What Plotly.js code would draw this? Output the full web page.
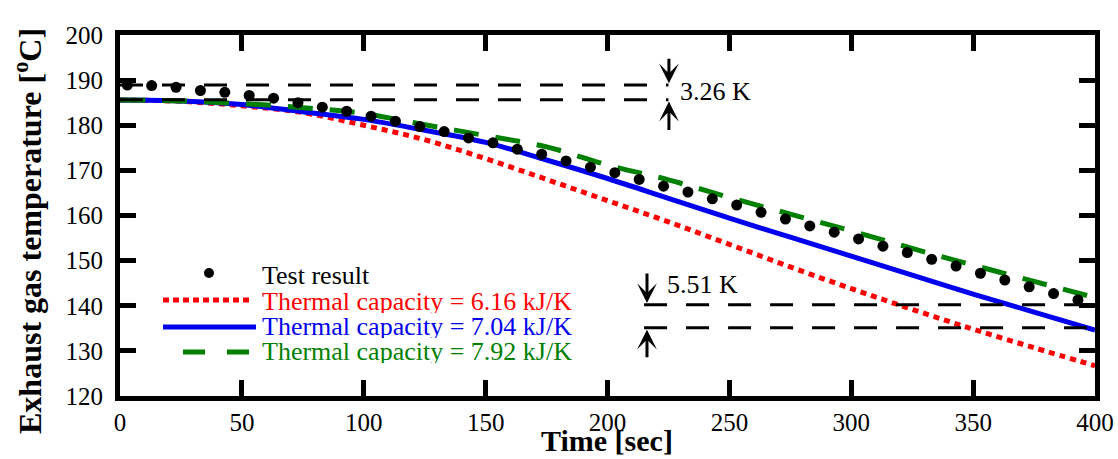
<!DOCTYPE html>
<html>
<head>
<meta charset="utf-8">
<script src="https://cdn.plot.ly/plotly-3.0.1.min.js"></script>
<style>html,body{margin:0;padding:0;background:#fff;}#chart{width:1118px;height:459px;}</style>
</head>
<body>
<div id="chart"></div>
<script>
// ---- data ----
const testTime = [3,13,23,33,43,53,63,73,83,93,103,113,123,133,143,153,163,173,183,193,
                  203,213,223,233,243,253,263,273,283,293,303,313,323,333,343,353,363,373,383,393];
const testTemp = [188.9,188.8,188.4,187.7,187.3,186.6,186.0,185.0,184.0,183.1,
                  182.0,180.9,179.7,178.6,177.2,176.1,174.7,173.6,172.1,170.7,
                  169.5,168.0,166.5,165.2,163.7,162.3,160.7,159.2,157.7,156.3,
                  154.8,153.2,151.8,150.3,148.8,147.2,145.7,144.2,142.7,141.3];
const simTime = [0,25,50,75,100,125,150,175,200,225,250,275,300,325,350,375,400];
const temp616 = [185.6,185.3,184.3,182.8,180.0,176.8,172.6,168.0,163.3,158.6,153.6,148.6,143.8,139.2,134.8,130.7,126.7];
const temp704 = [185.6,185.4,184.6,183.0,181.3,178.9,176.2,172.3,168.2,163.8,159.4,155.2,151.0,146.8,142.6,138.6,134.6];
const temp792 = [185.6,185.4,184.8,183.9,182.6,180.1,177.7,175.2,171.2,167.9,164.0,160.3,156.6,152.7,149.0,145.4,141.8];
const seriesNames = ['Test result','Thermal capacity = 6.16 kJ/K','Thermal capacity = 7.04 kJ/K','Thermal capacity = 7.92 kJ/K'];
const xTicks = [0,50,100,150,200,250,300,350,400];
const yTicks = [120,130,140,150,160,170,180,190,200];
// reference levels for the difference markers
const diffStartLabels = ['3.26 K','5.51 K'];
const startUpper = 188.9, startLower = 185.64, startSpan = [0, 225];
const endUpper = 140.2, endLower = 135.1, endSpan = [215, 400];

const FONT = 'Liberation Serif, Times New Roman, serif';
const RED = '#ff0000', BLUE = '#0000ee', GREEN = '#008000';

const traces = [
  {x: simTime, y: temp616, mode:'lines', name: seriesNames[1], line:{color:RED, width:5, dash:'6px,5px', shape:'spline'}},
  {x: simTime, y: temp704, mode:'lines', name: seriesNames[2], line:{color:BLUE, width:5, shape:'spline'}},
  {x: simTime, y: temp792, mode:'lines', name: seriesNames[3], line:{color:GREEN, width:5, dash:'25px,17px', shape:'spline'}},
  {x: testTime, y: testTemp, mode:'markers', name: seriesNames[0], marker:{color:'#000', size:11}}
];

// plot area in pixels, for paper-coordinate placement of legend / titles
const L = 120, R = 1095, T = 35, B = 396;
const px = v => (v - L) / (R - L);
const py = v => (B - v) / (B - T);

const shapes = [
  {type:'line', xref:'x', yref:'y', x0:startSpan[0], x1:startSpan[1], y0:startUpper, y1:startUpper, line:{color:'#000', width:3, dash:'23px,19px'}},
  {type:'line', xref:'x', yref:'y', x0:startSpan[0], x1:startSpan[1], y0:startLower, y1:startLower, line:{color:'#000', width:3, dash:'23px,19px'}},
  {type:'line', xref:'x', yref:'y', x0:endSpan[0], x1:endSpan[1], y0:endUpper, y1:endUpper, line:{color:'#000', width:3, dash:'23px,19px'}},
  {type:'line', xref:'x', yref:'y', x0:endSpan[0], x1:endSpan[1], y0:endLower, y1:endLower, line:{color:'#000', width:3, dash:'23px,19px'}},
  // legend samples
  {type:'line', xref:'paper', yref:'paper', x0:px(163), x1:px(253), y0:py(300), y1:py(300), line:{color:RED, width:5, dash:'6px,4px'}},
  {type:'line', xref:'paper', yref:'paper', x0:px(163), x1:px(256), y0:py(327), y1:py(327), line:{color:BLUE, width:5}},
  {type:'line', xref:'paper', yref:'paper', x0:px(183), x1:px(252), y0:py(352), y1:py(352), line:{color:GREEN, width:5, dash:'22px,22px'}},
  {type:'circle', xref:'paper', yref:'paper', xsizemode:'pixel', ysizemode:'pixel',
   xanchor:px(209), yanchor:py(273), x0:-5, x1:5, y0:-5, y1:5, fillcolor:'#000', line:{width:0}}
];

const legFont = c => ({family:FONT, size:26, color:c});
const legItem = (txt, yy, c) => ({xref:'paper', yref:'paper', x:px(261), y:py(yy), xanchor:'left', yanchor:'middle',
  text:txt, showarrow:false, font:legFont(c), height:24, borderpad:0});
const annotations = [
  legItem(seriesNames[0], 275, '#000'),
  legItem(seriesNames[1], 301, RED),
  legItem(seriesNames[2], 326, BLUE),
  legItem(seriesNames[3], 351, GREEN),
  // difference labels
  {xref:'x', yref:'y', x:229, y:187.4, xanchor:'left', yanchor:'middle', text:diffStartLabels[0], showarrow:false, font:legFont('#000')},
  {xref:'x', yref:'y', x:223.4, y:144.6, xanchor:'left', yanchor:'middle', text:diffStartLabels[1], showarrow:false, font:legFont('#000')},
  // arrows
  {xref:'x', yref:'y', x:225.2, y:startUpper+0.4, ax:0, ay:-26, text:'', showarrow:true, arrowhead:3, arrowsize:1.1, arrowwidth:3, arrowcolor:'#000', standoff:0},
  {xref:'x', yref:'y', x:225.2, y:startLower-0.4, ax:0, ay:30, text:'', showarrow:true, arrowhead:3, arrowsize:1.1, arrowwidth:3, arrowcolor:'#000', standoff:0},
  {xref:'x', yref:'y', x:216.2, y:endUpper+0.4, ax:0, ay:-31, text:'', showarrow:true, arrowhead:3, arrowsize:1.1, arrowwidth:3, arrowcolor:'#000', standoff:0},
  {xref:'x', yref:'y', x:216.2, y:endLower-0.4, ax:0, ay:29, text:'', showarrow:true, arrowhead:3, arrowsize:1.1, arrowwidth:3, arrowcolor:'#000', standoff:0},
  // axis titles
  {xref:'paper', yref:'paper', x:px(607), y:py(440), xanchor:'center', yanchor:'middle', text:'Time [sec]', showarrow:false,
   font:{family:FONT, size:30, color:'#000', weight:'bold'}},
  {xref:'paper', yref:'paper', x:px(28), y:py(231), xanchor:'center', yanchor:'middle', textangle:-90, text:'Exhaust gas temperature [<sup>o</sup>C]', showarrow:false,
   font:{family:FONT, size:32, color:'#000', weight:'bold'}}
];

const axisCommon = {
  showgrid:false, zeroline:false, showline:true, linecolor:'#000', linewidth:5, mirror:'ticks',
  ticks:'inside', ticklen:16, tickwidth:5, tickcolor:'#000',
  tickfont:{family:FONT, size:25, color:'#000'}
};

const layout = {
  width:1118, height:459,
  margin:{l:L, r:1118-R, t:T, b:459-B, pad:0},
  paper_bgcolor:'#fff', plot_bgcolor:'#fff',
  showlegend:false,
  xaxis: Object.assign({}, axisCommon, {range:[0,400], tickmode:'array', tickvals:xTicks, ticktext:xTicks.map(String)}),
  yaxis: Object.assign({}, axisCommon, {range:[120,200], tickmode:'array', tickvals:yTicks, ticktext:yTicks.map(String), ticklabelstandoff:7}),
  shapes: shapes,
  annotations: annotations
};

Plotly.newPlot('chart', traces, layout, {displayModeBar:false, staticPlot:true});
</script>
</body>
</html>
